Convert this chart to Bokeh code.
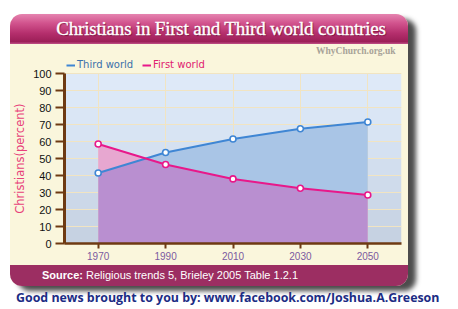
from bokeh.plotting import figure
from bokeh.layouts import column
from bokeh.models import (BoxAnnotation, Label, Legend, LegendItem, FixedTicker,
                          ColumnDataSource, Div, Grid)
from bokeh.embed import file_html
from bokeh.resources import INLINE

# ---- data ----
years = [1970, 1990, 2010, 2030, 2050]
third_world = [41.5, 53.5, 61.5, 67.5, 71.5]
first_world = [58.5, 46.5, 38.0, 32.5, 28.5]
y_ticks = [0, 10, 20, 30, 40, 50, 60, 70, 80, 90, 100]
series_names = ["Third world", "First world"]
title_text = "Christians in First and Third world countries"
watermark = "WhyChurch.org.uk"
source_bold = "Source:"
source_text = "Religious trends 5, Brieley 2005 Table 1.2.1"
credit_text = "Good news brought to you by: www.facebook.com/Joshua.A.Greeson"
y_label = "Christians(percent)"

# ---- derived region boundaries (insert crossing points) ----
xs, lo, t_up, f_up = [], [], [], []
for i in range(len(years)):
    t = third_world[i]; f = first_world[i]
    xs.append(years[i]); lo.append(min(t, f)); t_up.append(t); f_up.append(f)
    if i + 1 < len(years):
        d0 = third_world[i] - first_world[i]
        d1 = third_world[i + 1] - first_world[i + 1]
        if d0 * d1 < 0:
            r = d0 / (d0 - d1)
            xc = years[i] + r * (years[i + 1] - years[i])
            yc = third_world[i] + r * (third_world[i + 1] - third_world[i])
            xs.append(xc); lo.append(yc); t_up.append(yc); f_up.append(yc)

# ---- layout (pixels) ----
CARD_L, CARD_T, CARD_W = 10, 14, 398
TITLE_H, FIG_H, FOOT_H = 30, 221, 21
FIG_TOP = CARD_T + TITLE_H          # 44
FL, FR, PT, FB = 62, 401, 73, 243   # plot area in page pixels
CREAM = "#faf6dc"

frame_h = FB - FIG_TOP
y_top = 100 * frame_h / (FB - PT)

p = figure(width=CARD_W, height=FIG_H, x_range=(1960, 2060), y_range=(0, y_top),
           output_backend="svg", toolbar_location=None,
           min_border_left=FL - CARD_L, min_border_right=CARD_L + CARD_W - FR,
           min_border_top=0, min_border_bottom=FIG_TOP + FIG_H - FB,
           border_fill_color=CREAM, background_fill_color=CREAM,
           outline_line_color=None)

# plot background (gradient bands between grid lines)
band_cols = ["#c6d2e2", "#c9d5e5", "#ccd8e8", "#cfdbeb", "#d2deee",
             "#d5e1f1", "#d8e4f3", "#dae6f5", "#dce8f7", "#dee9f8"]
for k in range(len(y_ticks) - 1):
    p.add_layout(BoxAnnotation(left=1960, right=2060, bottom=y_ticks[k], top=y_ticks[k + 1],
                               fill_color=band_cols[k], fill_alpha=1.0, line_color=None,
                               level="image"))

GRID = "#f1e4c2"
# grid
p.ygrid.ticker = FixedTicker(ticks=y_ticks)
p.ygrid.grid_line_color = GRID
p.xgrid.ticker = FixedTicker(ticks=years)
if "cross_bounds" in Grid.properties():
    p.xgrid.cross_bounds = (0, 100)
    p.xgrid.grid_line_color = GRID
else:
    p.xgrid.grid_line_color = None
    p.segment(x0=years, y0=[0] * len(years), x1=years, y1=[100] * len(years),
              line_color=GRID, line_width=1, level="underlay")

# areas
p.varea(x=xs, y1=[0] * len(xs), y2=lo, fill_color="#b98fd0")
p.varea(x=xs, y1=lo, y2=t_up, fill_color="#a9c5e6")
p.varea(x=xs, y1=lo, y2=f_up, fill_color="#e7a7d0")

# lines
BLUE = "#3f86d4"
PINK = "#e8188a"
src = ColumnDataSource(dict(x=years, t=third_world, f=first_world))
lt = p.line("x", "t", source=src, line_color=BLUE, line_width=2)
lf = p.line("x", "f", source=src, line_color=PINK, line_width=2)
p.scatter("x", "t", source=src, size=6, line_color=BLUE, line_width=1.6, fill_color="white")
p.scatter("x", "f", source=src, size=6, line_color=PINK, line_width=1.6, fill_color="white")

# axes
BROWN = "#6e3a12"
p.xaxis.ticker = FixedTicker(ticks=years)
p.yaxis.ticker = FixedTicker(ticks=y_ticks)
p.yaxis.bounds = (0, 100)
for ax in (p.xaxis[0], p.yaxis[0]):
    ax.axis_line_color = BROWN
    ax.major_tick_line_color = BROWN
    ax.major_tick_line_width = 2
    ax.minor_tick_line_color = None
    ax.major_tick_in = 0
    ax.major_label_text_font = "Liberation Sans"
p.yaxis.axis_line_width = 3
p.xaxis.axis_line_width = 2.5
p.yaxis.major_label_text_font_size = "11px"
p.xaxis.major_label_text_font_size = "10px"
p.yaxis.major_tick_out = 9
p.xaxis.major_tick_out = 5
p.yaxis.major_label_text_color = "#111111"
p.xaxis.major_label_text_color = "#7a5aa0"
p.yaxis.major_label_standoff = 4
p.xaxis.major_label_standoff = 3
# axis label centred on the 0-100 part of the axis: pad the upper end with no-break spaces
p.yaxis.axis_label = y_label + "\u00a0" * 8
p.yaxis.axis_label_text_color = "#e8407a"
p.yaxis.axis_label_text_font = "DejaVu Sans"
p.yaxis.axis_label_text_font_style = "normal"
p.yaxis.axis_label_text_font_size = "11.5px"
p.yaxis.axis_label_standoff = 3

# legends (one per series so each label keeps its colour)
for rend, name, col, xpos in ((lt, series_names[0], "#3a70aa", 2),
                              (lf, series_names[1], "#e0206f", 78)):
    lg = Legend(items=[LegendItem(label=name, renderers=[rend])], location=(xpos, FB - 70),
                orientation="horizontal", background_fill_alpha=0, border_line_alpha=0,
                label_text_font="DejaVu Sans", label_text_font_size="10px",
                label_text_color=col, glyph_width=9, glyph_height=10, label_standoff=2,
                padding=0, margin=0, spacing=0)
    p.add_layout(lg)

# watermark (inside the plot's top band)
def px_to_x(px):
    return 1960 + (px - FL) * 100 / (FR - FL)

def py_to_y(py):
    return (FB - py) * 100 / (FB - PT)

p.add_layout(Label(x=px_to_x(395), y=py_to_y(50), text=watermark,
                   text_font="Liberation Serif", text_font_size="9.5px",
                   text_font_style="bold", text_color="#a8a398",
                   text_align="right", text_baseline="middle"))

# ---- HTML card pieces ----
title_div = Div(
    text=(f'<div style="width:{CARD_W}px;height:{TITLE_H}px;line-height:{TITLE_H}px;'
          f'text-align:center;padding-left:24px;box-sizing:border-box;'
          f'font-family:\'Liberation Serif\',serif;font-size:19px;color:white;'
          f'-webkit-text-stroke:0.35px white;letter-spacing:-0.2px;'
          f'text-shadow:1px 1px 1px rgba(80,0,30,0.6);white-space:nowrap;">{title_text}</div>'),
    width=CARD_W, height=TITLE_H, margin=0,
    styles={"background": "linear-gradient(#e584b0 0%, #d2548e 30%, #b42e6c 65%, #9c1f58 92%, #c05088 100%)",
            "border-radius": "12px 12px 0 0", "overflow": "hidden"})

foot_div = Div(
    text=(f'<div style="width:{CARD_W}px;height:{FOOT_H}px;line-height:{FOOT_H}px;'
          f'padding-left:32px;box-sizing:border-box;font-family:\'Liberation Sans\',sans-serif;'
          f'font-size:11px;color:white;white-space:nowrap;">'
          f'<b>{source_bold}</b> {source_text}</div>'),
    width=CARD_W, height=FOOT_H, margin=0,
    styles={"background": "#9c2e62", "border-radius": "0 0 12px 12px", "overflow": "hidden"})

card = column(title_div, p, foot_div, margin=(CARD_T, 0, 0, CARD_L), spacing=0,
              styles={"border-radius": "12px", "background": CREAM,
                      "box-shadow": "8px 5px 5px rgba(0,0,0,0.7)"})

credit_div = Div(
    text=(f'<div style="height:18px;line-height:18px;font-family:\'Open Sans\',sans-serif;'
          f'font-weight:bold;font-size:12.4px;color:#1c2c84;white-space:nowrap;">{credit_text}</div>'),
    width=440, height=18, margin=(3, 0, 0, 16))

root = column(card, credit_div, margin=0, spacing=0)

open("out.html", "w").write(file_html(root, INLINE))
